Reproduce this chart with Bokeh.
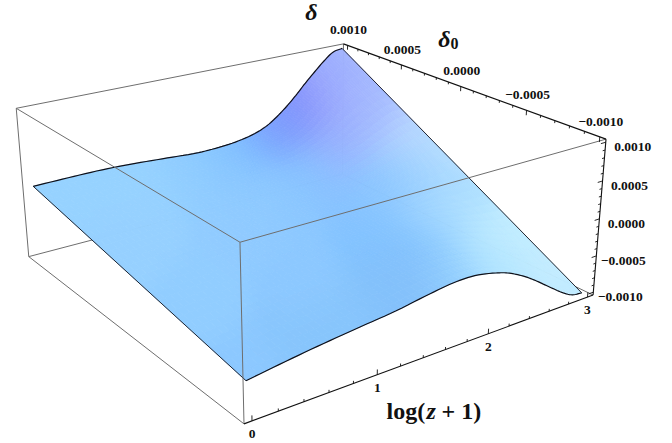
import numpy as np
from bokeh.plotting import figure
from bokeh.embed import file_html
from bokeh.resources import INLINE
from bokeh.core.properties import value

# ---- data (delta in units of 1e-3) ----
log_z = [0, .3, .6, .9, 1.2, 1.5, 1.7, 1.9, 2.1, 2.2, 2.3, 2.4, 2.5, 2.6, 2.7, 2.8, 2.9, 3.0]
delta_at_d0_max = [-.023, -.017, -.016, -.034, -.064, -.092, -.086, -.056, .015, .08, .18, .30, .44, .593, .735, .87, .98, 1.01]
delta_at_d0_min = [-.604, -.539, -.48, -.43, -.382, -.31, -.272, -.272, -.33, -.374, -.44, -.52, -.615, -.72, -.825, -.925, -1.0, -1.02]
x_ticks = [0, 1, 2, 3]
d_ticks = [1.0, 0.5, 0.0, -0.5, -1.0]
d_labels = ["0.0010", "0.0005", "0.0000", "\u22120.0005", "\u22120.0010"]

# surface shading: colours at screen positions
shade_pos = [(60,190),(120,180),(200,170),(130,240),(200,300),(250,370),(300,340),(300,280),(250,220),(360,320),
             (400,300),(380,240),(430,240),(403,273),(440,285),(463,267),(500,265),(487,240),(463,207),(440,207),
             (520,245),(547,280),(573,290),(440,157),(407,140),(373,123),(340,140),(373,190),(307,173),(273,207),
             (240,150),(273,123),(306,100),(327,75),(327,60),(340,55),(345,85),(285,113),(215,152),(345,110),
             (400,175),(420,185),(357,90),(240,185)]
shade_rgb = [(150,210,255),(150,210,255),(148,208,255),(150,208,255),(145,205,255),(140,200,255),(135,197,252),(140,200,255),(145,203,255),(135,197,252),
             (130,192,250),(130,195,255),(130,195,255),(130,190,250),(140,200,252),(150,210,255),(170,225,255),(195,238,255),(175,225,255),(170,220,255),
             (200,240,255),(195,235,255),(190,235,255),(185,225,255),(190,218,255),(165,190,255),(150,180,255),(135,195,255),(135,195,255),(140,200,255),
             (122,186,255),(120,165,255),(135,135,250),(140,150,252),(155,175,255),(175,195,255),(160,175,255),(125,150,252),(135,198,255),(150,165,252),
             (140,200,255),(150,205,255),(175,200,255),(143,203,255)]

# ---- camera: box corners on screen -> projective matrix ----
corners = [((0,0,0),(243.3,423.3)),((1,0,0),(592.7,294)),((1,0,1),(605.7,139.3)),((0,0,1),(239.3,241.7)),
           ((0,1,1),(16,107.3)),((0,1,0),(28.3,256.7)),((1,1,1),(342.7,43.3))]
A = []
for (u,v,w),(s,t) in corners:
    X = [u,v,w,1]
    A.append(X+[0,0,0,0]+[-s*a for a in X])
    A.append([0,0,0,0]+X+[-t*a for a in X])
P = np.linalg.svd(np.array(A))[2][-1].reshape(3,4)

XMIN, XSPAN = -0.06, 3.12
DMIN, DSPAN = -1.04, 2.08
def U(x): return (np.asarray(x, float)-XMIN)/XSPAN
def V(d): return (np.asarray(d, float)-DMIN)/DSPAN
def proj(u, v, w):
    u, v, w = np.broadcast_arrays(np.asarray(u,float), np.asarray(v,float), np.asarray(w,float))
    h = P @ np.stack([u, v, w, np.ones_like(u)])
    return h[0]/h[2], h[1]/h[2]

p = figure(width=672, height=443, x_range=(0,672), y_range=(443,0), output_backend="svg",
           toolbar_location=None, min_border=0, outline_line_color=None)
p.axis.visible = False
p.grid.visible = False
p.background_fill_color = "white"

GRAY = "#6e6e6e"
def seg(a, b, color=GRAY, width=1.0):
    xs, ys = proj(*np.array([a, b], float).T)
    p.line(xs, ys, line_color=color, line_width=width)

# hidden-side box edges, behind the surface
seg((0,1,1),(1,1,1)); seg((0,1,1),(0,1,0)); seg((0,1,0),(0,0,0))
seg((0,1,0),(1,1,0)); seg((1,0,0),(1,1,0)); seg((1,1,1),(1,1,0))

# ---- surface ----
def hermite(xn, yn, n):
    xn, yn = np.array(xn,float), np.array(yn,float)
    m = np.gradient(yn, xn)
    X, Y = [], []
    for i in range(len(xn)-1):
        h = xn[i+1]-xn[i]
        t = np.arange(n)/n
        X += list(xn[i]+t*h)
        Y += list((2*t**3-3*t**2+1)*yn[i]+(t**3-2*t**2+t)*h*m[i]+(-2*t**3+3*t**2)*yn[i+1]+(t**3-t**2)*h*m[i+1])
    return np.array(X+[xn[-1]]), np.array(Y+[yn[-1]])

mx, back = hermite(log_z, delta_at_d0_max, 6)
_, front = hermite(log_z, delta_at_d0_min, 6)
NV = 36
ms = np.linspace(0, 1, NV+1)      # 0 = delta0 max, 1 = delta0 min
sp = np.array(shade_pos, float); sc = np.array(shade_rgb, float)
def colour(x, y):
    d2 = ((sp - [x, y])**2).sum(axis=1)
    wt = np.exp(-d2/(2*24.0**2)) + 1e-9
    return (wt[:, None]*sc).sum(axis=0)/wt.sum()
def surf(i, s):
    d0 = 1-2*s
    return proj(U(mx[i]), V(d0), V(back[i]*(1-s)+front[i]*s))

pxs, pys, cols = [], [], []
for i in range(len(mx)-1):
    for j in range(NV):
        pts = [surf(i,ms[j]), surf(i+1,ms[j]), surf(i+1,ms[j+1]), surf(i,ms[j+1])]
        xx = [float(a[0]) for a in pts]; yy = [float(a[1]) for a in pts]
        pxs.append(xx); pys.append(yy)
        c = colour(sum(xx)/4, sum(yy)/4)
        cols.append("#%02x%02x%02x" % tuple(int(round(a)) for a in c))
p.patches(pxs, pys, fill_color=cols, line_color=cols, line_width=0.8)

# surface outline
ex, ey = proj(U(mx), V(1.0), V(back)); p.line(ex, ey, line_color="#101018", line_width=1.2)
ex, ey = proj(U(mx), V(-1.0), V(front)); p.line(ex, ey, line_color="#101018", line_width=1.2)
ex, ey = proj(U([mx[0],mx[0]]), V([1.0,-1.0]), V([back[0],front[0]])); p.line(ex, ey, line_color="#101018", line_width=0.9)
ex, ey = proj(U([mx[-1],mx[-1]]), V([1.0,-1.0]), V([back[-1],front[-1]])); p.line(ex, ey, line_color="#101018", line_width=0.9)

# front box edges, over the surface
seg((0,1,1),(0,0,1)); seg((0,0,1),(1,0,1)); seg((0,0,1),(0,0,0))

# axes
BLK = "#111111"
seg((0,0,0),(1,0,0),BLK,1.1); seg((1,1,1),(1,0,1),BLK,1.1); seg((1,0,1),(1,0,0),BLK,1.1)
def tick(a, b): seg(a, b, BLK, 0.9)
for k in range(16):
    x = k*0.2; L = 0.032 if k % 5 == 0 else 0.016
    tick((U(x),0,0),(U(x),0,L))
for k in range(-10, 11):
    d = k/10; L = 0.032 if k % 5 == 0 else 0.016
    tick((1,V(d),1),(1,V(d),1-L))
    tick((1,0,V(d)),(1-L/2,0,V(d)))

FONT = value("Liberation Serif")
def labels(xs, ys, txt, dx, dy, size="13.5px", style="bold", align="center", base="middle"):
    p.text(xs, ys, text=txt, x_offset=dx, y_offset=dy, text_font=FONT, text_font_size=size,
           text_font_style=style, text_align=align, text_baseline=base, text_color="#111111")

lx, ly = proj(U(x_ticks), 0*np.ones(4), 0*np.ones(4))
labels(list(lx), list(ly), [str(t) for t in x_ticks], 0, 13)
lx, ly = proj(np.ones(5), V(d_ticks), np.ones(5))
labels(list(lx), list(ly), d_labels, 1, -15)
lx, ly = proj(np.ones(5), np.zeros(5), V(d_ticks))
labels(list(lx), list(ly), d_labels, 27, 5)

# axis titles (placed in screen pixels)
labels([311],[11],["\u03b4"],0,0,size="24px",style="bold italic")
labels([444],[38],["\u03b4"],0,0,size="24px",style="bold italic")
labels([454],[43],["0"],0,0,size="16px",style="bold")
labels([386],[410],["log("],0,0,size="24px",align="left",base="alphabetic")
labels([426],[410],["z"],0,0,size="24px",style="bold italic",align="left",base="alphabetic")
labels([441],[410],["+ 1)"],0,0,size="24px",align="left",base="alphabetic")

open("out.html", "w").write(file_html(p, INLINE))
